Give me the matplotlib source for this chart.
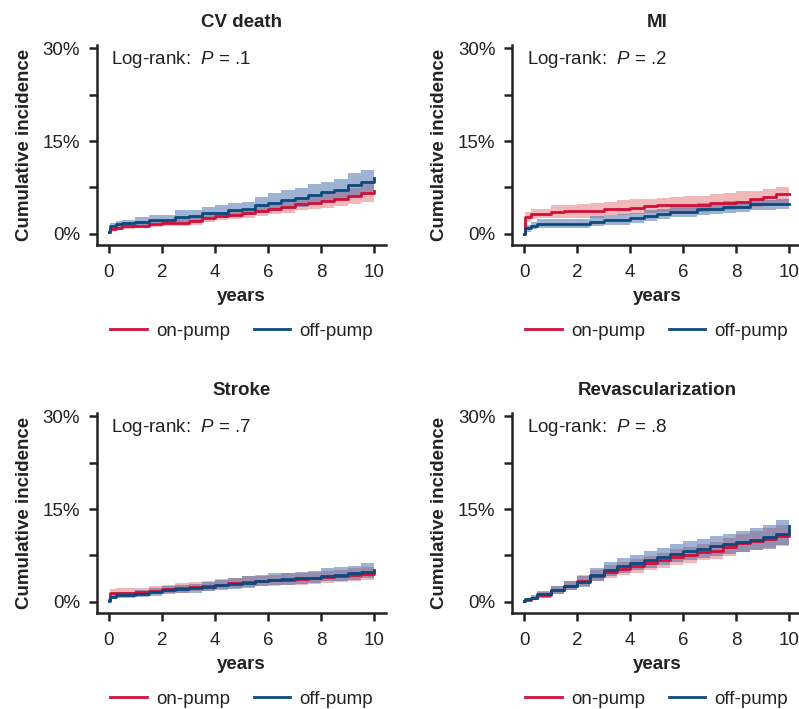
from matplotlib import pyplot as plt

plt.rcParams['font.family'] = ['Liberation Sans', 'DejaVu Sans']
plt.rcParams['mathtext.fontset'] = 'custom'
plt.rcParams['mathtext.it'] = 'Liberation Sans:italic'
plt.rcParams['mathtext.rm'] = 'Liberation Sans'

# follow-up times (years)
t = [0, 0.05, 0.25, 0.5, 1, 1.5, 2, 2.5, 3, 3.5, 4, 4.5, 5, 5.5, 6, 6.5, 7, 7.5, 8, 8.5, 9, 9.5, 10]

# CV death
cv_on = [0.3, 0.8, 1.0, 1.2, 1.3, 1.6, 1.7, 1.8, 2.1, 2.5, 2.9, 3.1, 3.3, 3.7, 4.0, 4.3, 4.9, 5.0, 5.3, 5.6, 6.1, 6.6, 6.9]
cv_on_lo = [0.1, 0.5, 0.7, 0.8, 0.9, 1.1, 1.2, 1.3, 1.5, 1.9, 2.2, 2.4, 2.6, 2.9, 3.2, 3.4, 3.9, 4.0, 4.2, 4.5, 4.9, 5.2, 5.5]
cv_on_hi = [0.6, 1.2, 1.4, 1.6, 1.8, 2.1, 2.2, 2.4, 2.7, 3.1, 3.6, 3.8, 4.1, 4.5, 4.9, 5.2, 5.9, 6.1, 6.4, 6.8, 7.4, 8.0, 8.5]
cv_off = [0.3, 1.2, 1.6, 1.7, 2.0, 2.3, 2.3, 2.8, 2.9, 3.3, 3.4, 3.8, 4.0, 4.6, 5.0, 5.5, 5.8, 6.3, 6.7, 7.1, 7.9, 8.4, 9.1]
cv_off_lo = [0.1, 0.8, 1.1, 1.2, 1.4, 1.7, 1.7, 2.0, 2.1, 2.4, 2.5, 2.8, 3.0, 3.4, 3.7, 4.1, 4.4, 4.8, 5.1, 5.5, 6.2, 6.6, 7.2]
cv_off_hi = [0.6, 1.7, 2.1, 2.3, 2.7, 3.0, 3.1, 3.8, 3.9, 4.4, 4.6, 5.0, 5.2, 6.0, 6.6, 7.1, 7.4, 8.0, 8.4, 8.9, 9.8, 10.4, 11.2]

# MI
mi_on = [0, 2.8, 3.2, 3.2, 3.6, 3.7, 3.7, 3.7, 4.0, 4.0, 4.25, 4.55, 4.7, 4.7, 4.7, 4.7, 4.95, 4.95, 5.2, 5.6, 5.9, 6.4, 6.5]
mi_on_lo = [0, 1.9, 2.4, 2.5, 2.5, 2.5, 2.6, 2.6, 3.0, 3.05, 3.2, 3.4, 3.6, 3.6, 3.6, 3.6, 3.8, 3.8, 4.0, 4.4, 4.6, 5.0, 5.2]
mi_on_hi = [0, 3.6, 4.1, 4.1, 4.6, 4.7, 4.8, 5.0, 5.1, 5.4, 5.6, 5.7, 5.8, 6.0, 6.2, 6.2, 6.4, 6.6, 7.0, 7.0, 7.2, 7.6, 8.0]
mi_off = [0, 0.9, 1.3, 1.6, 1.6, 1.6, 1.6, 2.0, 2.25, 2.25, 2.5, 2.95, 3.2, 3.6, 3.6, 4.0, 4.0, 4.3, 4.3, 4.8, 4.8, 4.8, 4.8]
mi_off_lo = [0, 0.3, 0.8, 1.0, 1.0, 1.0, 1.0, 1.3, 1.5, 1.5, 1.7, 2.1, 2.4, 2.7, 2.8, 3.1, 3.2, 3.4, 3.5, 3.9, 3.9, 4.0, 4.0]
mi_off_hi = [0, 1.5, 2.0, 2.4, 2.4, 2.4, 2.4, 2.9, 3.1, 3.2, 3.4, 3.9, 4.1, 4.5, 4.6, 5.0, 5.0, 5.3, 5.3, 5.5, 5.5, 5.6, 5.6]

# Stroke
st_on = [0.3, 1.4, 1.5, 1.5, 1.6, 1.8, 2.05, 2.2, 2.4, 2.6, 2.8, 3.0, 3.2, 3.3, 3.5, 3.6, 3.7, 3.9, 4.0, 4.2, 4.3, 4.5, 4.85]
st_on_lo = [0.0, 0.9, 1.0, 1.0, 1.1, 1.2, 1.4, 1.5, 1.7, 1.8, 2.0, 2.2, 2.4, 2.5, 2.6, 2.7, 2.8, 2.9, 3.1, 3.2, 3.3, 3.5, 3.7]
st_on_hi = [0.6, 2.1, 2.2, 2.2, 2.3, 2.5, 2.8, 3.0, 3.2, 3.4, 3.7, 3.9, 4.1, 4.2, 4.4, 4.6, 4.7, 4.9, 5.0, 5.2, 5.4, 5.6, 5.9]
st_off = [0.2, 0.8, 1.1, 1.1, 1.3, 1.6, 1.85, 2.0, 2.2, 2.4, 2.7, 2.9, 3.1, 3.3, 3.6, 3.7, 3.8, 3.9, 4.25, 4.4, 4.6, 4.85, 5.1]
st_off_lo = [0.0, 0.4, 0.6, 0.6, 0.8, 1.0, 1.2, 1.4, 1.5, 1.7, 1.9, 2.1, 2.3, 2.5, 2.7, 2.8, 2.9, 3.0, 3.3, 3.4, 3.6, 3.8, 4.0]
st_off_hi = [0.4, 1.3, 1.6, 1.6, 1.9, 2.2, 2.5, 2.7, 2.9, 3.2, 3.5, 3.8, 4.1, 4.3, 4.6, 4.7, 4.9, 5.0, 5.4, 5.6, 5.8, 6.2, 6.6]

# Revascularization
rv_on = [0.1, 0.3, 0.6, 1.1, 1.9, 2.6, 3.4, 4.2, 4.9, 5.3, 5.8, 6.2, 6.7, 7.2, 7.6, 8.0, 8.2, 8.8, 9.5, 9.9, 10.2, 10.6, 11.1]
rv_on_lo = [0.0, 0.1, 0.3, 0.6, 1.3, 1.9, 2.6, 3.3, 3.9, 4.3, 4.7, 5.1, 5.5, 6.0, 6.3, 6.7, 6.9, 7.4, 8.0, 8.4, 8.7, 9.1, 9.6]
rv_on_hi = [0.2, 0.6, 1.0, 1.6, 2.6, 3.4, 4.3, 5.2, 6.0, 6.4, 6.9, 7.4, 7.9, 8.5, 8.9, 9.4, 9.6, 10.3, 11.0, 11.5, 11.9, 12.4, 13.1]
rv_off = [0.1, 0.4, 0.7, 1.2, 1.9, 2.6, 3.2, 4.3, 5.2, 5.8, 6.3, 6.8, 7.3, 7.8, 8.2, 8.6, 9.0, 9.3, 9.6, 10.0, 10.4, 11.0, 12.2]
rv_off_lo = [0.0, 0.1, 0.4, 0.7, 1.3, 1.9, 2.4, 3.3, 4.1, 4.6, 5.1, 5.5, 5.9, 6.4, 6.8, 7.1, 7.4, 7.7, 8.0, 8.3, 8.6, 9.2, 10.1]
rv_off_hi = [0.2, 0.7, 1.1, 1.8, 2.6, 3.4, 4.1, 5.4, 6.4, 7.1, 7.6, 8.2, 8.7, 9.3, 9.8, 10.2, 10.7, 11.0, 11.4, 11.9, 12.4, 13.2, 14.2]

panels = [
    ('CV death', '.1', cv_on, cv_on_lo, cv_on_hi, cv_off, cv_off_lo, cv_off_hi),
    ('MI', '.2', mi_on, mi_on_lo, mi_on_hi, mi_off, mi_off_lo, mi_off_hi),
    ('Stroke', '.7', st_on, st_on_lo, st_on_hi, st_off, st_off_lo, st_off_hi),
    ('Revascularization', '.8', rv_on, rv_on_lo, rv_on_hi, rv_off, rv_off_lo, rv_off_hi),
]

red = '#D0103A'
blue = '#0B4A7D'
red_fill = '#E27272'
blue_fill = '#3F66A8'
txt = '#222222'
fs = 13.5

fig = plt.figure(figsize=(7.99, 7.09), dpi=100)

# axes positions in figure fractions
positions = [
    [0.1214, 0.6544, 0.362, 0.282],
    [0.641, 0.6544, 0.362, 0.282],
    [0.1214, 0.1354, 0.362, 0.282],
    [0.641, 0.1354, 0.362, 0.282],
]

for pos, (title, p, on, on_lo, on_hi, off, off_lo, off_hi) in zip(positions, panels):
    ax = fig.add_axes(pos)
    ax.fill_between(t, on_lo, on_hi, step='post', color=red_fill, alpha=0.5, lw=0)
    ax.fill_between(t, off_lo, off_hi, step='post', color=blue_fill, alpha=0.5, lw=0)
    ax.step(t, on, where='post', color=red, lw=2, label='on-pump')
    ax.step(t, off, where='post', color=blue, lw=2, label='off-pump')

    ax.set_xlim(-0.45, 10.45)
    ax.set_ylim(-1.8, 30.5)
    ax.set_xticks([0, 2, 4, 6, 8, 10])
    ax.set_yticks([0, 15, 30])
    ax.set_yticklabels(['0%', '15%', '30%'])
    ax.set_yticks([7.5, 22.5], minor=True)
    ax.tick_params(which='both', direction='out', length=6, width=1.8, labelsize=fs, colors=txt)
    ax.tick_params(axis='y', pad=6)
    ax.tick_params(axis='x', pad=8)
    for s in ['top', 'right']:
        ax.spines[s].set_visible(False)
    for s in ['left', 'bottom']:
        ax.spines[s].set_linewidth(1.8)
        ax.spines[s].set_color(txt)

    ax.set_title(title, fontsize=fs, fontweight='bold', color=txt, pad=13)
    ax.set_ylabel('Cumulative incidence', fontsize=fs, fontweight='bold', color=txt, labelpad=7)
    ax.set_xlabel('years', fontsize=fs, fontweight='bold', color=txt, labelpad=5)
    ax.text(0.05, 0.98, r'Log-rank:  $\it{P}$ = ' + p, transform=ax.transAxes,
            fontsize=fs, color=txt, va='top', ha='left')
    ax.legend(loc='center', bbox_to_anchor=(0.5, -0.43), ncol=2, frameon=False,
              fontsize=fs, handlelength=1.95, columnspacing=1.25, handletextpad=0.5,
              labelcolor=txt)

plt.savefig('out.png', dpi=100)
